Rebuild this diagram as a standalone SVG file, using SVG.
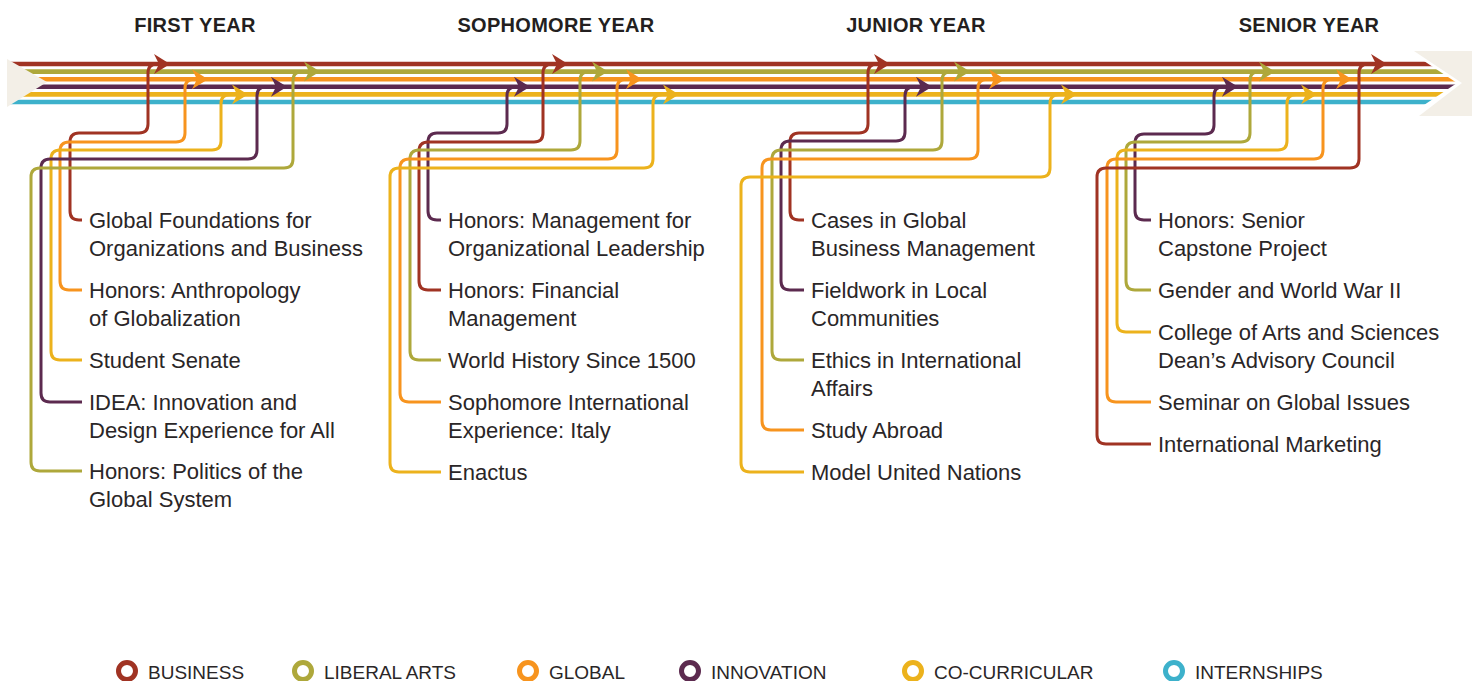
<svg xmlns="http://www.w3.org/2000/svg" width="1477" height="681" viewBox="0 0 1477 681">
<style>
.t{font-family:"Liberation Sans",Arial,sans-serif;font-size:22px;fill:#2a2627}
.h{font-family:"Liberation Sans",Arial,sans-serif;font-size:20px;font-weight:bold;fill:#231f20;text-anchor:middle;letter-spacing:0.3px}
.lg{font-family:"Liberation Sans",Arial,sans-serif;font-size:19px;fill:#2a2627}
.c{fill:none;stroke-width:3;stroke-linejoin:round}
.trk{stroke-width:4.6;fill:none}
.bu{stroke:#a03323}.la{stroke:#aea83b}.gl{stroke:#f7941e}.in{stroke:#5c2a4f}.cc{stroke:#ecb21c}.is{stroke:#3db1cb}
.ring{fill:none;stroke-width:5}
</style>
<defs>
<clipPath id="clipT"><polygon points="0,40 1392.5,40 1457,83 1392.5,126 0,126"/></clipPath>
<marker id="aBU" markerUnits="userSpaceOnUse" markerWidth="16" markerHeight="20" refX="6" refY="10" orient="auto"><path d="M0,0 L16,10 L0,20 L5,10 Z" fill="#a03323"/></marker>
<marker id="aLA" markerUnits="userSpaceOnUse" markerWidth="16" markerHeight="20" refX="6" refY="10" orient="auto"><path d="M0,0 L16,10 L0,20 L5,10 Z" fill="#aea83b"/></marker>
<marker id="aGL" markerUnits="userSpaceOnUse" markerWidth="16" markerHeight="20" refX="6" refY="10" orient="auto"><path d="M0,0 L16,10 L0,20 L5,10 Z" fill="#f7941e"/></marker>
<marker id="aIN" markerUnits="userSpaceOnUse" markerWidth="16" markerHeight="20" refX="6" refY="10" orient="auto"><path d="M0,0 L16,10 L0,20 L5,10 Z" fill="#5c2a4f"/></marker>
<marker id="aCC" markerUnits="userSpaceOnUse" markerWidth="16" markerHeight="20" refX="6" refY="10" orient="auto"><path d="M0,0 L16,10 L0,20 L5,10 Z" fill="#ecb21c"/></marker>
</defs>
<rect width="1477" height="681" fill="#ffffff"/>

<g id="headers">
<text class="h" x="195" y="32">FIRST YEAR</text>
<text class="h" x="556" y="32">SOPHOMORE YEAR</text>
<text class="h" x="916" y="32">JUNIOR YEAR</text>
<text class="h" x="1309" y="32">SENIOR YEAR</text>
</g>

<g id="tracks" clip-path="url(#clipT)">
<line class="trk bu" x1="8" y1="64" x2="1470" y2="64"/>
<line class="trk la" x1="8" y1="71.6" x2="1470" y2="71.6"/>
<line class="trk gl" x1="8" y1="79.2" x2="1470" y2="79.2"/>
<line class="trk in" x1="8" y1="86.8" x2="1470" y2="86.8"/>
<line class="trk cc" x1="8" y1="94.4" x2="1470" y2="94.4"/>
<line class="trk is" x1="8" y1="102" x2="1470" y2="102"/>
</g>
<polygon id="tail" points="7,59 47,82 7,107" fill="#f3efe7"/>
<polygon id="head" points="1414,51 1472,51 1472,116 1419,116 1462,83" fill="#f3efe7"/>

<g id="connectors">
<path class="c bu" marker-end="url(#aBU)" d="M82 220 H79 Q70 220 70 211 V142 Q70 133 79 133 H139 Q148 133 148 124 V73 Q148 64 157 64 H160"/>
<path class="c gl" marker-end="url(#aGL)" d="M82 290 H69 Q60 290 60 281 V151 Q60 142 69 142 H176 Q185 142 185 133 V88.2 Q185 79.2 194 79.2 H198"/>
<path class="c cc" marker-end="url(#aCC)" d="M82 360 H60 Q51 360 51 351 V159 Q51 150 60 150 H212 Q221 150 221 141 V103.4 Q221 94.4 230 94.4 H238"/>
<path class="c in" marker-end="url(#aIN)" d="M82 402 H50 Q41 402 41 393 V168 Q41 159 50 159 H248 Q257 159 257 150 V95.8 Q257 86.8 266 86.8 H277"/>
<path class="c la" marker-end="url(#aLA)" d="M82 471 H40 Q31 471 31 462 V177 Q31 168 40 168 H284 Q293 168 293 159 V80.6 Q293 71.6 302 71.6 H310"/>

<path class="c in" marker-end="url(#aIN)" d="M441 220 H437 Q428 220 428 211 V142 Q428 133 437 133 H498 Q507 133 507 124 V95.8 Q507 86.8 516 86.8 H520"/>
<path class="c bu" marker-end="url(#aBU)" d="M441 290 H428 Q419 290 419 281 V151 Q419 142 428 142 H534 Q543 142 543 133 V73 Q543 64 552 64 H558"/>
<path class="c la" marker-end="url(#aLA)" d="M441 360 H419 Q410 360 410 351 V159 Q410 150 419 150 H571 Q580 150 580 141 V80.6 Q580 71.6 589 71.6 H598"/>
<path class="c gl" marker-end="url(#aGL)" d="M441 402 H409 Q400 402 400 393 V168 Q400 159 409 159 H608 Q617 159 617 150 V88.2 Q617 79.2 626 79.2 H632"/>
<path class="c cc" marker-end="url(#aCC)" d="M441 472 H399 Q390 472 390 463 V177 Q390 168 399 168 H644 Q653 168 653 159 V103.4 Q653 94.4 662 94.4 H669"/>

<path class="c bu" marker-end="url(#aBU)" d="M804 220 H799 Q790 220 790 211 V142 Q790 133 799 133 H859 Q868 133 868 124 V73 Q868 64 877 64 H880"/>
<path class="c in" marker-end="url(#aIN)" d="M804 290 H790 Q781 290 781 281 V150 Q781 141 790 141 H896 Q905 141 905 132 V95.8 Q905 86.8 914 86.8 H922"/>
<path class="c la" marker-end="url(#aLA)" d="M804 360 H781 Q772 360 772 351 V159 Q772 150 781 150 H933 Q942 150 942 141 V80.6 Q942 71.6 951 71.6 H960"/>
<path class="c gl" marker-end="url(#aGL)" d="M804 430 H771 Q762 430 762 421 V168 Q762 159 771 159 H969 Q978 159 978 150 V88.2 Q978 79.2 987 79.2 H995"/>
<path class="c cc" marker-end="url(#aCC)" d="M804 472 H750 Q741 472 741 463 V186 Q741 177 750 177 H1041 Q1050 177 1050 168 V103.4 Q1050 94.4 1059 94.4 H1067"/>

<path class="c in" marker-end="url(#aIN)" d="M1151 220 H1144 Q1135 220 1135 211 V143 Q1135 134 1144 134 H1205 Q1214 134 1214 125 V95.8 Q1214 86.8 1223 86.8 H1228"/>
<path class="c la" marker-end="url(#aLA)" d="M1151 290 H1135 Q1126 290 1126 281 V151 Q1126 142 1135 142 H1241 Q1250 142 1250 133 V80.6 Q1250 71.6 1259 71.6 H1265"/>
<path class="c cc" marker-end="url(#aCC)" d="M1151 332 H1126 Q1117 332 1117 323 V159 Q1117 150 1126 150 H1278 Q1287 150 1287 141 V103.4 Q1287 94.4 1296 94.4 H1307"/>
<path class="c gl" marker-end="url(#aGL)" d="M1151 402 H1116 Q1107 402 1107 393 V168 Q1107 159 1116 159 H1314 Q1323 159 1323 150 V88.2 Q1323 79.2 1332 79.2 H1342"/>
<path class="c bu" marker-end="url(#aBU)" d="M1151 444 H1106 Q1097 444 1097 435 V177 Q1097 168 1106 168 H1350 Q1359 168 1359 159 V73 Q1359 64 1368 64 H1377"/>
</g>

<g id="y1-global-foundations"><text class="t" x="89" y="228">Global Foundations for</text><text class="t" x="89" y="256">Organizations and Business</text></g>
<g id="y1-anthropology"><text class="t" x="89" y="298">Honors: Anthropology</text><text class="t" x="89" y="326">of Globalization</text></g>
<g id="y1-student-senate"><text class="t" x="89" y="368">Student Senate</text></g>
<g id="y1-idea"><text class="t" x="89" y="410">IDEA: Innovation and</text><text class="t" x="89" y="438">Design Experience for All</text></g>
<g id="y1-politics"><text class="t" x="89" y="479">Honors: Politics of the</text><text class="t" x="89" y="507">Global System</text></g>

<g id="y2-management"><text class="t" x="448" y="228">Honors: Management for</text><text class="t" x="448" y="256">Organizational Leadership</text></g>
<g id="y2-financial"><text class="t" x="448" y="298">Honors: Financial</text><text class="t" x="448" y="326">Management</text></g>
<g id="y2-world-history"><text class="t" x="448" y="368">World History Since 1500</text></g>
<g id="y2-italy"><text class="t" x="448" y="410">Sophomore International</text><text class="t" x="448" y="438">Experience: Italy</text></g>
<g id="y2-enactus"><text class="t" x="448" y="480">Enactus</text></g>

<g id="y3-cases"><text class="t" x="811" y="228">Cases in Global</text><text class="t" x="811" y="256">Business Management</text></g>
<g id="y3-fieldwork"><text class="t" x="811" y="298">Fieldwork in Local</text><text class="t" x="811" y="326">Communities</text></g>
<g id="y3-ethics"><text class="t" x="811" y="368">Ethics in International</text><text class="t" x="811" y="396">Affairs</text></g>
<g id="y3-study-abroad"><text class="t" x="811" y="438">Study Abroad</text></g>
<g id="y3-mun"><text class="t" x="811" y="480">Model United Nations</text></g>

<g id="y4-capstone"><text class="t" x="1158" y="228">Honors: Senior</text><text class="t" x="1158" y="256">Capstone Project</text></g>
<g id="y4-gender"><text class="t" x="1158" y="298">Gender and World War II</text></g>
<g id="y4-dean"><text class="t" x="1158" y="340">College of Arts and Sciences</text><text class="t" x="1158" y="368">Dean’s Advisory Council</text></g>
<g id="y4-seminar"><text class="t" x="1158" y="410">Seminar on Global Issues</text></g>
<g id="y4-marketing"><text class="t" x="1158" y="452">International Marketing</text></g>

<g id="legend">
<g id="lg-business"><circle class="ring bu" cx="127" cy="671" r="8.5"/><text class="lg" x="148" y="679">BUSINESS</text></g>
<g id="lg-liberal"><circle class="ring la" cx="303" cy="671" r="8.5"/><text class="lg" x="324" y="679">LIBERAL ARTS</text></g>
<g id="lg-global"><circle class="ring gl" cx="528" cy="671" r="8.5"/><text class="lg" x="549" y="679">GLOBAL</text></g>
<g id="lg-innovation"><circle class="ring in" cx="690" cy="671" r="8.5"/><text class="lg" x="711" y="679">INNOVATION</text></g>
<g id="lg-cocurricular"><circle class="ring cc" cx="913" cy="671" r="8.5"/><text class="lg" x="934" y="679">CO-CURRICULAR</text></g>
<g id="lg-internships"><circle class="ring is" cx="1174" cy="671" r="8.5"/><text class="lg" x="1195" y="679">INTERNSHIPS</text></g>
</g>
</svg>
